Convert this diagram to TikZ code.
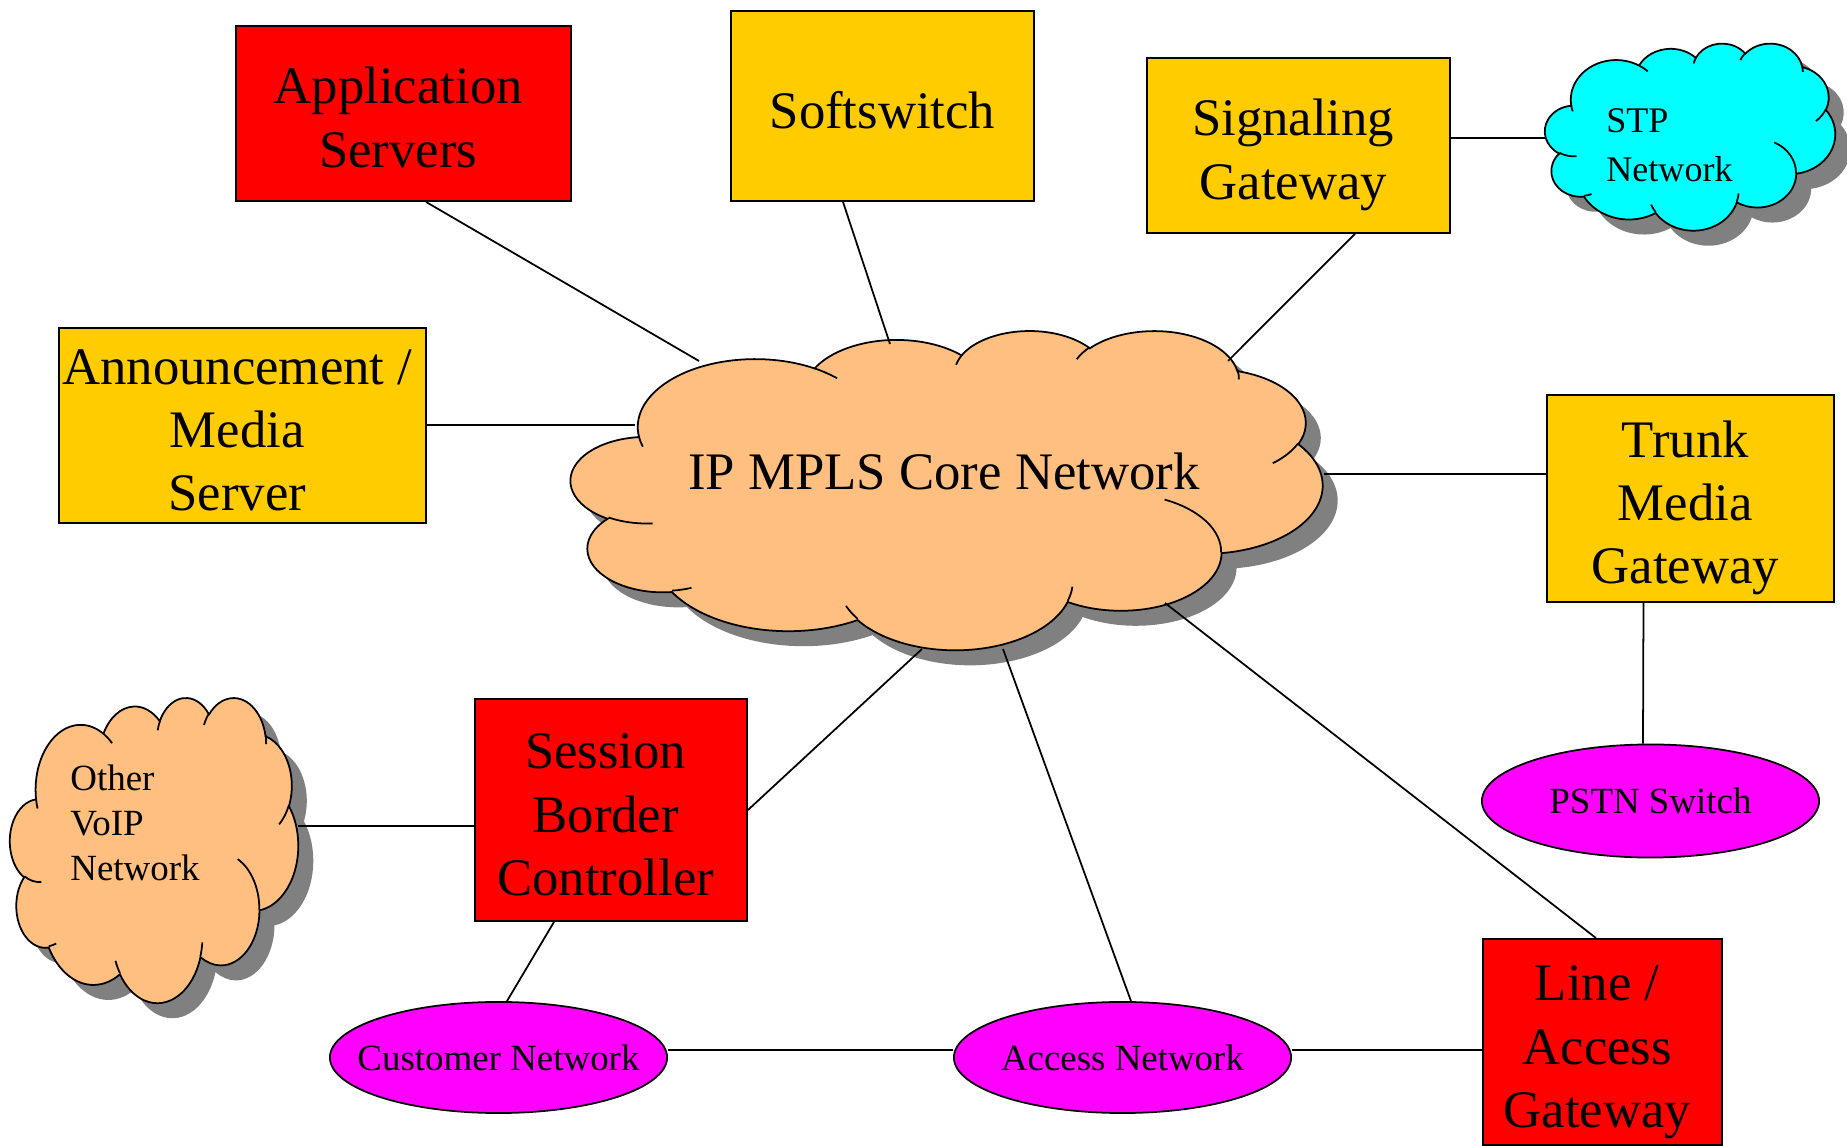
\documentclass[tikz,border=0pt]{standalone}
\usepackage{fontspec}
\setmainfont{Liberation Serif}
\usetikzlibrary{shapes.geometric,calc}
\definecolor{boxred}{RGB}{255,0,0}
\definecolor{boxgold}{RGB}{255,204,0}
\definecolor{cloudorange}{RGB}{255,191,128}
\definecolor{cloudcyan}{RGB}{0,255,255}
\definecolor{ellmag}{RGB}{255,0,255}
\definecolor{shadowgray}{RGB}{128,128,128}

% arc of an ellipse given with DrawingML-style (visual) angles
\newcommand\defcarc[5]{%
  \pgfmathsetmacro\cTmpA{atan2((#2)*sin(#4),(#3)*cos(#4))}%
  \pgfmathsetmacro\cTmpB{atan2((#2)*sin((#4)+(#5)),(#3)*cos((#4)+(#5)))}%
  \pgfmathsetmacro\cTmpD{mod(\cTmpB-(\cTmpA)+720,360)}%
  \expandafter\xdef\csname #1\endcsname{arc[x radius=#2, y radius=#3, start angle=\cTmpA, delta angle=\cTmpD]}%
}
\newcommand\CloudPath{(3.900,14.370) \CArcA \CArcB \CArcC \CArcD \CArcE \CArcF \CArcG \CArcH \CArcI \CArcJ \CArcK -- cycle}
\newcommand\CloudInner{(4.693,26.177) \CInA (6.928,34.899) \CInB (16.478,39.090) \CInC (28.827,34.751) \CInD (34.129,22.954) \CInE (41.798,15.354) \CInF (38.324,5.426) \CInG (29.078,3.952) \CInH (22.141,4.720) \CInI (14.000,5.192) \CInJ (4.127,15.789) \CInK}
\newcommand\drawcloud[5]{%
  \begin{scope}[shift={(#1+15,#2+15)}, x={#3/4320*1cm}, y={-#4/4320*1cm}]
    \fill[shadowgray] \CloudPath;
  \end{scope}
  \begin{scope}[shift={(#1,#2)}, x={#3/4320*1cm}, y={-#4/4320*1cm}]
    \filldraw[fill=#5, draw=black, line width=0.5pt] \CloudPath;
    \draw[line width=0.5pt] \CloudInner;
  \end{scope}}
% struts that fix the placement of box texts
\newcommand\tstrut{\rule{0pt}{16pt}}
\newcommand\bstrut{\rule[-3.4pt]{3pt}{0pt}}
\newcommand\nl{\rule{3pt}{0pt}\\}

\tikzset{
  conn/.style={draw=black, line width=0.5pt},
  boxnode/.style={draw=black, line width=0.5pt, rectangle, inner sep=0pt, align=center, font=\fontsize{15}{18}\selectfont},
  ellnode/.style={draw=black, line width=0.5pt, ellipse, inner sep=0pt, fill=ellmag, font=\fontsize{10.5}{12.6}\selectfont},
}

\begin{document}
\begin{tikzpicture}[x=0.01cm, y=-0.01cm]
\defcarc{CArcA}{6.753}{9.190}{-190.4875}{123.7805}
\defcarc{CArcB}{5.333}{7.267}{-144.1024}{89.9452}
\defcarc{CArcC}{4.365}{5.945}{-145.8079}{99.7230}
\defcarc{CArcD}{4.857}{6.595}{-130.9861}{117.2417}
\defcarc{CArcE}{5.333}{7.273}{-78.7089}{109.0269}
\defcarc{CArcF}{6.775}{9.220}{-46.2673}{130.2690}
\defcarc{CArcG}{5.785}{7.867}{0.6250}{114.0333}
\defcarc{CArcH}{6.752}{9.215}{22.4516}{115.1726}
\defcarc{CArcI}{7.720}{10.543}{66.2426}{75.7110}
\defcarc{CArcJ}{4.360}{5.918}{-274.9421}{146.7356}
\defcarc{CArcK}{4.345}{5.945}{-246.8285}{152.5189}
\defcarc{CInA}{4.345}{5.945}{86.7420}{26.4295}
\defcarc{CInB}{4.360}{5.918}{73.6105}{11.4475}
\defcarc{CInC}{6.752}{9.215}{137.6242}{14.0811}
\defcarc{CInD}{6.752}{9.215}{6.4533}{15.9984}
\defcarc{CInE}{5.785}{7.867}{-70.2924}{70.9174}
\defcarc{CInF}{5.333}{7.273}{30.3180}{27.7515}
\defcarc{CInG}{4.857}{6.595}{-13.7443}{14.8589}
\defcarc{CInH}{4.857}{6.595}{-149.1815}{18.1954}
\defcarc{CInI}{4.365}{5.945}{-163.4943}{17.6864}
\defcarc{CInJ}{6.753}{9.190}{-66.7070}{12.3194}
\defcarc{CInK}{6.753}{9.190}{157.6544}{11.8582}

\useasboundingbox (0,0) rectangle (1847,1146);
\fill[white] (0,0) rectangle (1847,1146);

% clouds
\drawcloud{571}{330}{751}{319}{cloudorange}
\drawcloud{1545}{43}{290}{187}{cloudcyan}
\drawcloud{10}{697}{288}{305}{cloudorange}

\node[anchor=base, font=\fontsize{15}{18}\selectfont] (mplsT) at (944,490) {IP MPLS Core Network};
\node[anchor=base west, align=left, font=\fontsize{10.25}{14}\selectfont] (stpT) at (1594,182) {STP\\Network};
\node[anchor=base west, align=left, font=\fontsize{10.5}{12.8}\selectfont] (voipT) at (58,881) {Other\\VoIP\\Network};

% boxes
\node[boxnode, fill=boxred, minimum width=3.35cm, minimum height=1.75cm] (as) at (403.5,113.5) {\tstrut Application\nl Servers\bstrut};
\node[boxnode, fill=boxgold, minimum width=3.03cm, minimum height=1.90cm] (ss) at (882.5,106) {\tstrut Softswitch\rule[-3.4pt]{0pt}{0pt}};
\node[boxnode, fill=boxgold, minimum width=3.03cm, minimum height=1.75cm] (sg) at (1298.5,145.5) {\tstrut Signaling\nl Gateway\bstrut};
\node[boxnode, fill=boxgold, minimum width=3.67cm, minimum height=1.91cm] (ams) at (242.5,425.5) {\tstrut Announcement /\nl Media\nl Server\bstrut};
\node[boxnode, fill=boxgold, minimum width=2.87cm, minimum height=2.07cm] (tmg) at (1690.5,498.5) {\tstrut Trunk\nl Media\nl Gateway\bstrut};
\node[boxnode, fill=boxred, minimum width=2.72cm, minimum height=2.22cm] (sbc) at (611,810) {\tstrut Session\nl Border\nl Controller\bstrut};
\node[boxnode, fill=boxred, minimum width=2.39cm, minimum height=2.06cm] (lag) at (1602.5,1042) {\tstrut Line /\nl Access\nl Gateway\bstrut};

% ellipses
\node[ellnode, minimum width=3.37cm, minimum height=1.13cm] (pstn) at (1650.5,801) {\makebox[0pt]{PSTN Switch}};
\node[ellnode, minimum width=3.37cm, minimum height=1.11cm] (cust) at (498.5,1057.5) {\makebox[0pt]{Customer Network}};
\node[ellnode, minimum width=3.37cm, minimum height=1.11cm] (acc) at (1122.5,1057.5) {\makebox[0pt]{Access Network}};

% connection points on the clouds
\coordinate (mplsAS) at (699,361);
\coordinate (mplsSS) at (890,344);
\coordinate (mplsSG) at (1228,361);
\coordinate (mplsAMS) at (635,425);
\coordinate (mplsTMG) at (1324,474);
\coordinate (mplsSBC) at (922,649);
\coordinate (mplsACC) at (1003,649);
\coordinate (mplsLAG) at (1165,603);
\coordinate (stpW) at (1546,138);
\coordinate (voipE) at (298,826);
\coordinate (custE) at ($(cust.east)+(0,-7.5)$);
\coordinate (accE) at ($(acc.east)+(0,-7.5)$);

% connectors
\draw[conn] ($(as.south)+(22.5,0)$) -- (mplsAS);
\draw[conn] ($(ss.south)+(-39.5,0)$) -- (mplsSS);
\draw[conn] ($(sg.south)+(56.5,0)$) -- (mplsSG);
\draw[conn] (sg.east |- stpW) -- (stpW);
\draw[conn] (ams.east |- mplsAMS) -- (mplsAMS);
\draw[conn] (mplsTMG) -- (mplsTMG -| tmg.west);
\draw[conn] ($(tmg.south)+(-47,0)$) -- ($(pstn.north)+(-7.5,0)$);
\draw[conn] (mplsSBC) -- (sbc.east);
\draw[conn] (mplsACC) -- ($(acc.north)+(8.5,0)$);
\draw[conn] (mplsLAG) -- ($(lag.north)+(-6.5,0)$);
\draw[conn] (voipE) -- (voipE -| sbc.west);
\draw[conn] ($(sbc.south)+(-57,0)$) -- ($(cust.north)+(8.5,0)$);
\draw[conn] (custE) -- (custE -| acc.west);
\draw[conn] (accE) -- (accE -| lag.west);
\end{tikzpicture}
\end{document}
